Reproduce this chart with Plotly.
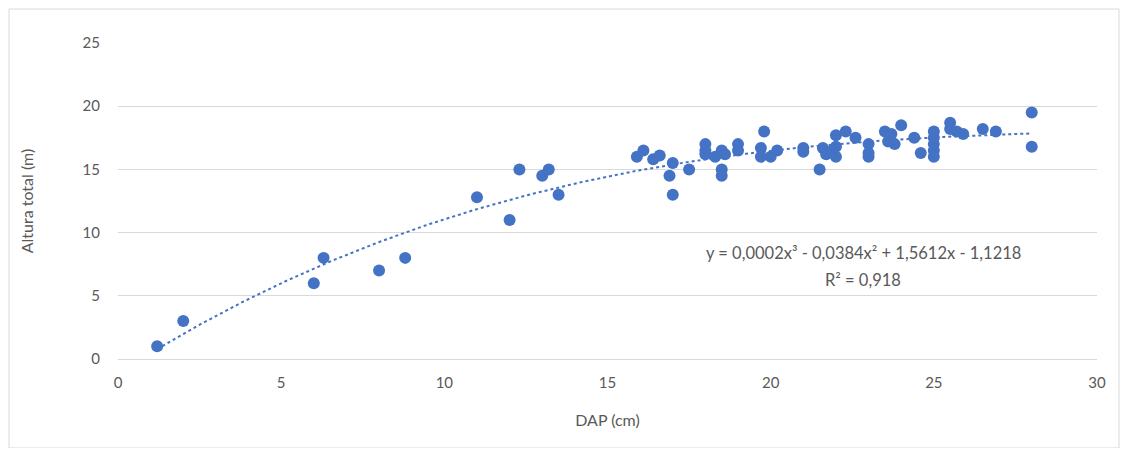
import numpy as np
import plotly.graph_objects as go

dap = [1.2, 2.0, 6.0, 6.3, 8.0, 8.8, 11.0, 12.0, 12.3, 13.0, 13.2, 13.5,
       15.9, 16.1, 16.4, 16.6, 16.9, 17.0, 17.0, 17.5,
       18.0, 18.0, 18.0, 18.3, 18.5, 18.5, 18.5, 18.6,
       19.0, 19.0, 19.7, 19.7, 19.8, 20.0, 20.2,
       21.0, 21.0, 21.5, 21.6, 21.7, 21.9,
       22.0, 22.0, 22.0, 22.3, 22.6,
       23.0, 23.0, 23.0, 23.5, 23.6, 23.8, 23.7, 24.0,
       24.4, 24.6, 25.0, 25.0, 25.0, 25.0, 25.0,
       25.5, 25.5, 25.7, 25.9, 26.5, 26.9, 28.0, 28.0]
altura = [1.0, 3.0, 6.0, 8.0, 7.0, 8.0, 12.8, 11.0, 15.0, 14.5, 15.0, 13.0,
          16.0, 16.5, 15.8, 16.1, 14.5, 13.0, 15.5, 15.0,
          17.0, 16.5, 16.2, 16.0, 16.5, 15.0, 14.5, 16.2,
          17.0, 16.5, 16.7, 16.0, 18.0, 16.0, 16.5,
          16.7, 16.4, 15.0, 16.7, 16.2, 16.5,
          17.7, 16.0, 16.8, 18.0, 17.5,
          17.0, 16.3, 16.0, 18.0, 17.2, 17.0, 17.8, 18.5,
          17.5, 16.3, 18.0, 17.5, 16.5, 16.0, 17.0,
          18.7, 18.2, 18.0, 17.8, 18.2, 18.0, 19.5, 16.8]

eq_text = "y = 0,0002x³ - 0,0384x² + 1,5612x - 1,1218"
r2_text = "R² = 0,918"

coef = np.polyfit(dap, altura, 3)
xt = np.linspace(min(dap), max(dap), 200)
yt = np.polyval(coef, xt)

font = "Lato, 'Open Sans', sans-serif"
gray = "#595959"
blue = "#4472C4"

# page has an 8px body margin; figure coordinates are offset by 8px
W, H = 1112, 440
L, R, T, B = 110, 23, 35, 89
pw, ph = W - L - R, H - T - B

def px(xpix):
    return (xpix - 8 - L) / pw

def py(ypix):
    return (H - B - (ypix - 8)) / ph

fig = go.Figure()
fig.add_trace(go.Scatter(x=xt, y=yt, mode="lines",
                         line=dict(color=blue, width=2, dash="dot"),
                         hoverinfo="skip", showlegend=False))
fig.add_trace(go.Scatter(x=dap, y=altura, mode="markers",
                         marker=dict(color=blue, size=12),
                         showlegend=False))

fig.add_annotation(x=px(863), y=py(253), xref="paper", yref="paper",
                   xanchor="center", yanchor="middle",
                   text=eq_text, showarrow=False, align="center",
                   font=dict(family=font, size=16.5, color=gray))
fig.add_annotation(x=px(863), y=py(280), xref="paper", yref="paper",
                   xanchor="center", yanchor="middle",
                   text=r2_text, showarrow=False, align="center",
                   font=dict(family=font, size=16.5, color=gray))

fig.add_shape(type="rect", xref="paper", yref="paper",
              x0=px(9), x1=px(1119), y0=py(448), y1=py(9),
              line=dict(color="#d9d9d9", width=1), fillcolor="rgba(0,0,0,0)", layer="below")

fig.update_layout(
    width=W, height=H,
    margin=dict(l=L, r=R, t=T, b=B),
    plot_bgcolor="white", paper_bgcolor="white",
    font=dict(family=font, size=15, color=gray),
    xaxis=dict(range=[0, 30], dtick=5, showgrid=False, zeroline=False,
               showline=True, linecolor="#d9d9d9", linewidth=1,
               ticks="outside", ticklen=10, tickcolor="rgba(0,0,0,0)",
               title=dict(text="DAP (cm)", font=dict(size=16, color=gray), standoff=24)),
    yaxis=dict(range=[0, 25], dtick=5, showgrid=True, gridcolor="#d9d9d9", gridwidth=1,
               zeroline=False, showline=False, ticks="outside", ticklen=14,
               tickcolor="rgba(0,0,0,0)",
               title=dict(text="Altura total (m)", font=dict(size=16, color=gray), standoff=44)),
)

fig.write_html("out.html")
